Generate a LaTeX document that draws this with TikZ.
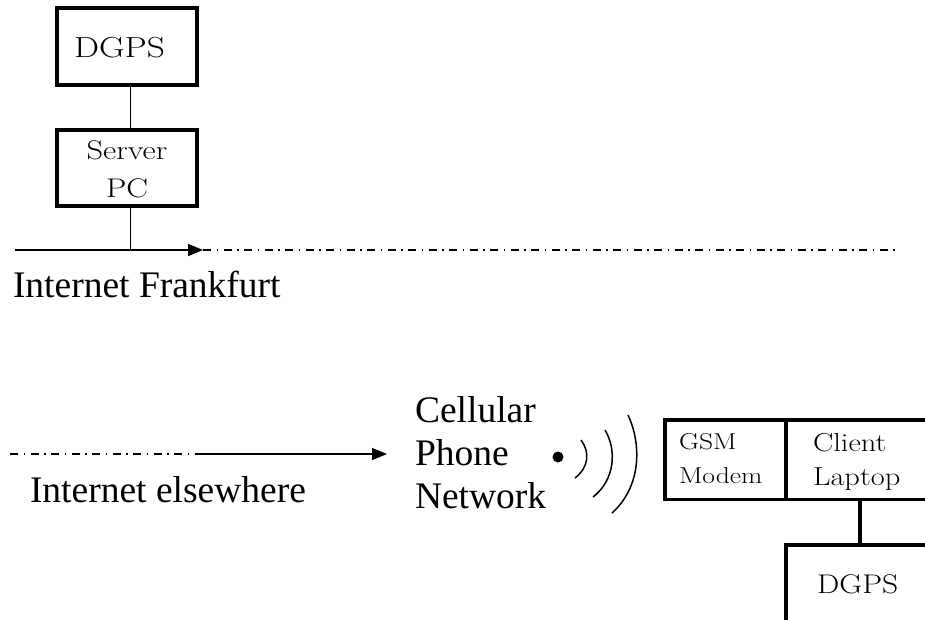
\documentclass[tikz,border=0pt]{standalone}
\usepackage{fontspec}
\usepackage{graphicx}
\newfontfamily\labelfont{Liberation Serif}
\newcommand\hwide[2]{\scalebox{#1}[1]{#2}}
\usetikzlibrary{arrows.meta}
\begin{document}
\begin{tikzpicture}[x=1pt,y=-1pt,
  box/.style={draw, line width=3.5pt, inner sep=0pt, outer sep=0pt, anchor=north west},
  conn/.style={line width=1.5pt},
  thickconn/.style={line width=3.3pt},
  net/.style={line width=1.6pt},
  dashdot/.style={line width=1.5pt, dash pattern=on 8pt off 5.5pt on 1.5pt off 5.5pt},
  arr/.style={-{Triangle[length=15pt,width=12pt]}},
  wave/.style={line width=1.5pt},
  btxt/.style={inner sep=0pt, outer sep=0pt, anchor=base west},
  lbl/.style={inner sep=0pt, outer sep=0pt, anchor=base west, font=\labelfont\fontsize{37.5}{43}\selectfont}
]
\useasboundingbox (0,0) rectangle (925,619);
\clip (0,0) rectangle (925,619);

% --- Frankfurt side
\node[box, minimum width=140pt, minimum height=77pt] (dgpsA) at (56.75,7.75) {};
\node[box, minimum width=140pt, minimum height=76pt] (server) at (56.75,129.75) {};
\node[btxt, font=\fontsize{29}{37}\selectfont] (dgpsAt) at (74,57) {\hwide{1.22}{DGPS}};
\node[btxt, anchor=base, align=center, font=\fontsize{27}{38}\selectfont] (servert) at (127,197) {\hwide{1.2}{Server}\\\hwide{1.2}{PC}};
\draw[conn] ([xshift=3.5pt]dgpsA.south) -- ([xshift=3.5pt]server.north);

\coordinate (fa) at (15,250);
\coordinate (fb) at (203,250);
\coordinate (fc) at (895,250);
\draw[net, arr] (fa) -- (fb);
\draw[dashdot] (fb) -- (fc);
\draw[conn] ([xshift=3.5pt]server.south) -- ([xshift=3.5pt]server.south |- fa);
\node[lbl] (frank) at (13,297) {Internet Frankfurt};

% --- elsewhere
\coordinate (ea) at (10,454);
\coordinate (eb) at (198,454);
\coordinate (ec) at (387,454);
\draw[dashdot] (ea) -- (eb);
\draw[net, arr] (eb) -- (ec);
\node[lbl] (else) at (30,502) {Internet elsewhere};
\node[lbl, align=left] (cell) at (415,508) {Cellular\\Phone\\Network};

% --- radio
\node[circle, fill, inner sep=0pt, minimum size=11pt] (dot) at (558,457) {};
\draw[wave] (581,440) .. controls (590,452) and (589,467) .. (575,478);
\draw[wave] (605,430) .. controls (617,450) and (615,480) .. (593,497);
\draw[wave] (628,415) .. controls (642,445) and (641,487) .. (612,513);

% --- client side
\node[box, minimum width=121.5pt, minimum height=79.5pt] (gsm) at (664.75,419.75) {};
\node[box, minimum width=148pt, minimum height=79.5pt] (client) at (786,419.75) {};
\node[box, minimum width=148pt, minimum height=140pt] (dgpsB) at (786,544.75) {};
\draw[thickconn] (client.south) -- (dgpsB.north);
\node[btxt, align=left, font=\fontsize{23}{34}\selectfont] (gsmt) at (679,483) {\hwide{1.2}{GSM}\\\hwide{1.2}{Modem}};
\node[btxt, align=left, font=\fontsize{26}{34}\selectfont] (clientt) at (813,485) {\hwide{1.17}{Client}\\\hwide{1.17}{Laptop}};
\node[btxt, font=\fontsize{27}{34}\selectfont] (dgpsBt) at (817,593) {\hwide{1.17}{DGPS}};
\end{tikzpicture}
\end{document}
